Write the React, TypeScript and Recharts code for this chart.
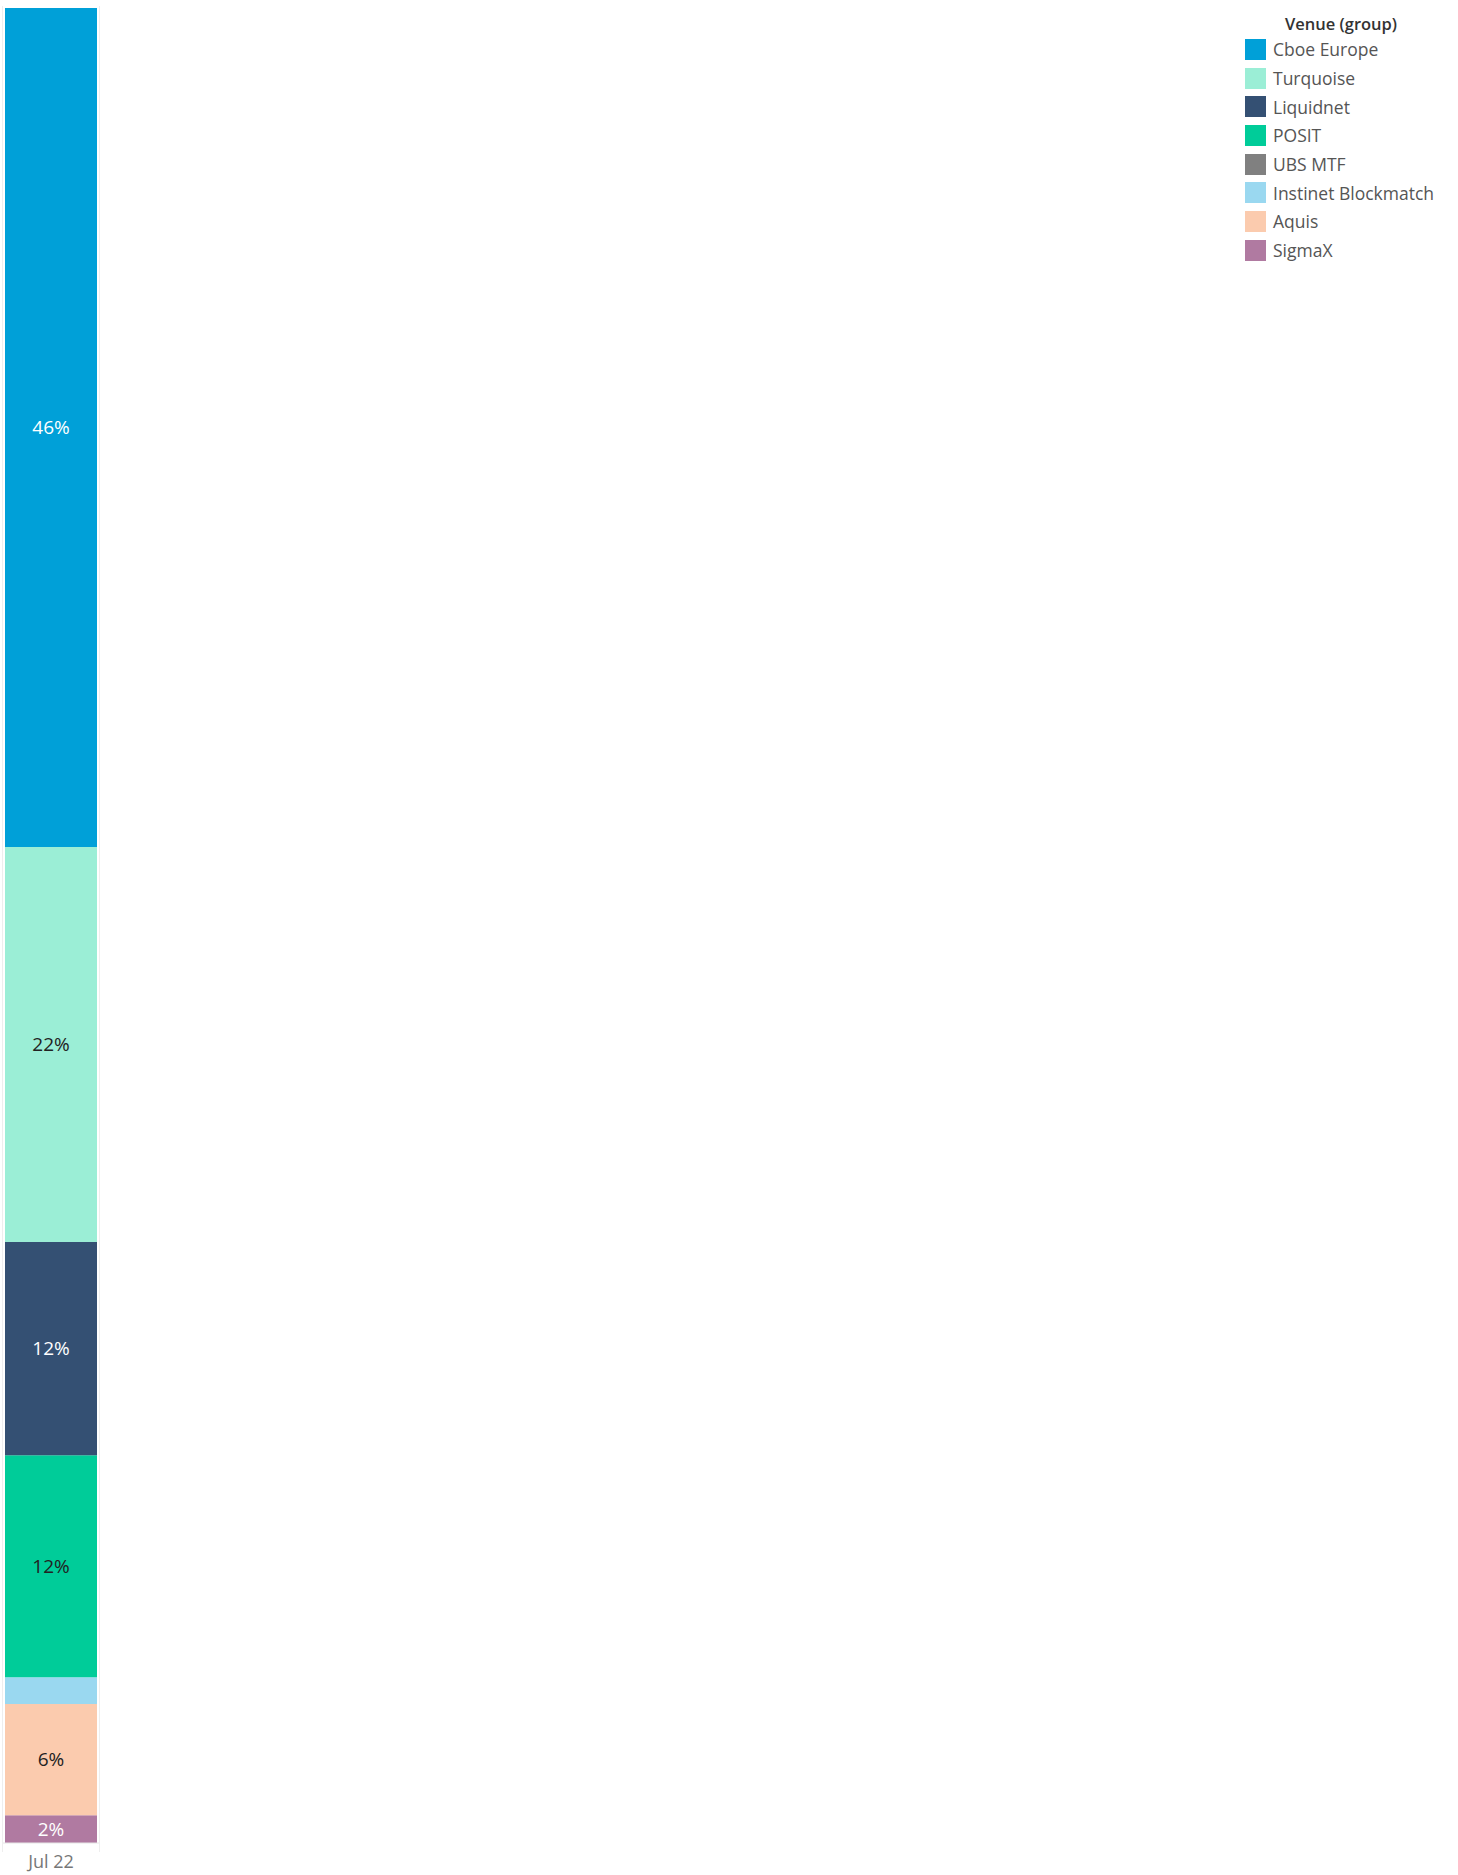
import { BarChart, Bar, XAxis, YAxis, LabelList } from "recharts";

const PERIODS = ["Jul 22"];
const VENUES = [
  "Cboe Europe",
  "Turquoise",
  "Liquidnet",
  "POSIT",
  "UBS MTF",
  "Instinet Blockmatch",
  "Aquis",
  "SigmaX",
];
// share of volume, %
const SHARES = [45.72, 21.53, 11.62, 12.1, 0, 1.45, 6.07, 1.51];
const COLORS = [
  "#00a0d8",
  "#9beed6",
  "#345073",
  "#00cc99",
  "#808080",
  "#9ad8f0",
  "#fbcbae",
  "#b07aa1",
];
const LABEL_COLORS = ["#ffffff", "#222222", "#ffffff", "#222222", "#ffffff", "#222222", "#222222", "#ffffff"];

const FONT = "'Open Sans', 'Noto Sans', sans-serif";

const data = PERIODS.map((period) => {
  const row: Record<string, string | number> = { period };
  VENUES.forEach((v, i) => {
    row[v] = SHARES[i];
  });
  return row;
});

function VenueLegend() {
  return (
    <div style={{ position: "absolute", left: 1245, top: 8, fontFamily: FONT }}>
      <div style={{ fontSize: 16.5, fontWeight: 600, color: "#333", marginLeft: 40, paddingTop: 4, height: 23 }}>
        Venue (group)
      </div>
      {VENUES.map((v, i) => (
        <div key={v} style={{ display: "flex", alignItems: "center", height: 28.7 }}>
          <span style={{ width: 21, height: 21, background: COLORS[i], display: "inline-block" }} />
          <span style={{ marginLeft: 7, fontSize: 17.5, color: "#555" }}>{v}</span>
        </div>
      ))}
    </div>
  );
}

export default function App() {
  const order = VENUES.map((_, i) => i).reverse();
  return (
    <div style={{ position: "absolute", left: 0, top: 0, width: 1458, height: 1875, background: "#fff", fontFamily: FONT }}>
      <div
        style={{
          position: "absolute",
          left: 2,
          top: 6,
          width: 96,
          height: 1846,
          borderLeft: "1px solid #eeeeee",
          borderRight: "1px solid #eeeeee",
        }}
      />
      <div style={{ position: "absolute", left: 0, top: 0 }}>
        <BarChart
          width={102}
          height={1875}
          data={data}
          margin={{ top: 8, right: 3, bottom: 0, left: 3 }}
          barCategoryGap={2}
        >
          <YAxis hide type="number" domain={[0, 100]} />
          <XAxis
            dataKey="period"
            height={32}
            tickLine={false}
            axisLine={{ stroke: "#e6e6e6" }}
            tickMargin={6}
            tick={{ fill: "#777", fontSize: 18, fontFamily: FONT }}
          />
          {order.map((i) => (
            <Bar
              key={VENUES[i]}
              dataKey={VENUES[i]}
              stackId="share"
              fill={COLORS[i]}
              isAnimationActive={false}
            >
              <LabelList
                dataKey={VENUES[i]}
                position="center"
                style={{ fill: LABEL_COLORS[i], fontSize: 19, fontFamily: FONT, stroke: "none" }}
                formatter={(v) => ((v as number) >= 1.5 ? `${Math.round(v as number)}%` : "")}
              />
            </Bar>
          ))}
        </BarChart>
      </div>
      <VenueLegend />
    </div>
  );
}
